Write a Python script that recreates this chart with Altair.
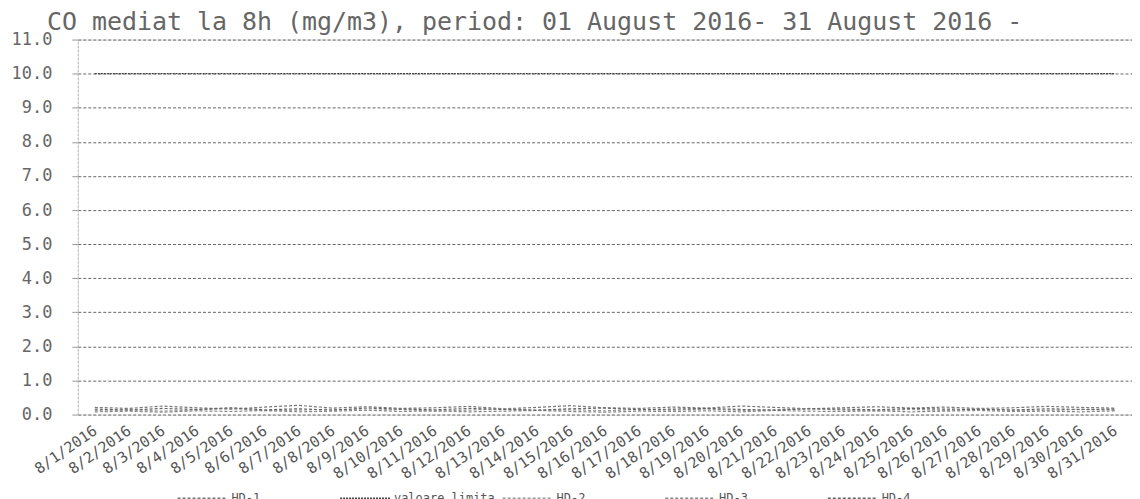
import altair as alt
import pandas as pd

dates = [f"8/{d}/2016" for d in range(1, 32)]
series_names = ["HD-1", "valoare limita", "HD-2", "HD-3", "HD-4"]

hd1 = [0.21, 0.18, 0.25, 0.20, 0.16, 0.22, 0.27, 0.19, 0.23, 0.18, 0.20, 0.24, 0.17, 0.21, 0.26, 0.20,
       0.18, 0.22, 0.19, 0.25, 0.21, 0.17, 0.20, 0.23, 0.19, 0.22, 0.18, 0.20, 0.24, 0.21, 0.19]
hd2 = [0.12, 0.15, 0.10, 0.14, 0.18, 0.11, 0.13, 0.16, 0.12, 0.15, 0.10, 0.13, 0.17, 0.12, 0.14, 0.11,
       0.15, 0.13, 0.16, 0.12, 0.14, 0.18, 0.13, 0.11, 0.15, 0.12, 0.16, 0.14, 0.12, 0.15, 0.13]
hd3 = [0.08, 0.10, 0.07, 0.11, 0.09, 0.12, 0.08, 0.10, 0.13, 0.09, 0.11, 0.08, 0.10, 0.12, 0.09, 0.07,
       0.10, 0.09, 0.11, 0.08, 0.12, 0.10, 0.09, 0.11, 0.08, 0.10, 0.12, 0.09, 0.10, 0.08, 0.11]
hd4 = [0.16, 0.13, 0.18, 0.15, 0.20, 0.14, 0.17, 0.13, 0.19, 0.16, 0.14, 0.18, 0.15, 0.13, 0.17, 0.19,
       0.14, 0.16, 0.18, 0.15, 0.13, 0.17, 0.16, 0.14, 0.18, 0.16, 0.15, 0.13, 0.17, 0.15, 0.16]
limit = [10.0] * 31

rows = []
for name, vals in zip(series_names, [hd1, limit, hd2, hd3, hd4]):
    for d, v in zip(dates, vals):
        rows.append({"date": d, "series": name, "value": v})
df = pd.DataFrame(rows)

colors = ["#777777", "#444444", "#999999", "#888888", "#666666"]
dashes = [[3, 2], [2, 1], [3, 2], [3, 2], [3, 2]]

title = alt.TitleParams(
    "CO mediat la 8h (mg/m3), period: 01 August 2016- 31 August 2016 -",
    anchor="start", font="DejaVu Sans Mono", fontSize=25, fontWeight="normal",
    color="#666666", dx=36, offset=-4,
)

chart = alt.Chart(df, title=title).mark_line(strokeWidth=1.2).encode(
    x=alt.X("date:N", sort=dates, title=None,
            scale=alt.Scale(paddingInner=0, paddingOuter=0),
            axis=alt.Axis(labelAngle=-35, labelAlign="right", labelBaseline="middle",
                          labelFont="DejaVu Sans Mono", labelFontSize=15, labelColor="#555555",
                          labelPadding=14, ticks=False, domain=False, grid=False,
                          labelOverlap=False)),
    y=alt.Y("value:Q", title=None,
            scale=alt.Scale(domain=[0, 11], nice=False),
            axis=alt.Axis(values=list(range(0, 12)), format=".1f",
                          labelFont="DejaVu Sans Mono", labelFontSize=17, labelColor="#666666",
                          labelPadding=20, tickSize=6, tickColor="#999999",
                          domainColor="#bbbbbb", domainDash=[2, 2],
                          gridColor="#666666", gridDash=[3, 2], gridWidth=1)),
    color=alt.Color("series:N", sort=series_names,
                    scale=alt.Scale(domain=series_names, range=colors),
                    legend=alt.Legend(title=None, orient="none", direction="horizontal",
                                      legendX=99, legendY=434, columns=5, gridAlign="all",
                                      symbolType="stroke", symbolSize=2500, symbolStrokeWidth=1.5,
                                      symbolDash=[3, 1], labelFont="DejaVu Sans Mono",
                                      labelFontSize=12, labelColor="#555555", labelOffset=3,
                                      columnPadding=4)),
    strokeDash=alt.StrokeDash("series:N", sort=series_names,
                              scale=alt.Scale(domain=series_names, range=dashes), legend=None),
).properties(
    width=1057, height=376,
    autosize=alt.AutoSizeParams(type="none"),
    padding={"left": 70, "top": 31, "right": 0, "bottom": 84},
).configure_view(stroke=None).configure(background="white")

chart.save("out.html", embed_options={"renderer": "svg", "actions": False})
